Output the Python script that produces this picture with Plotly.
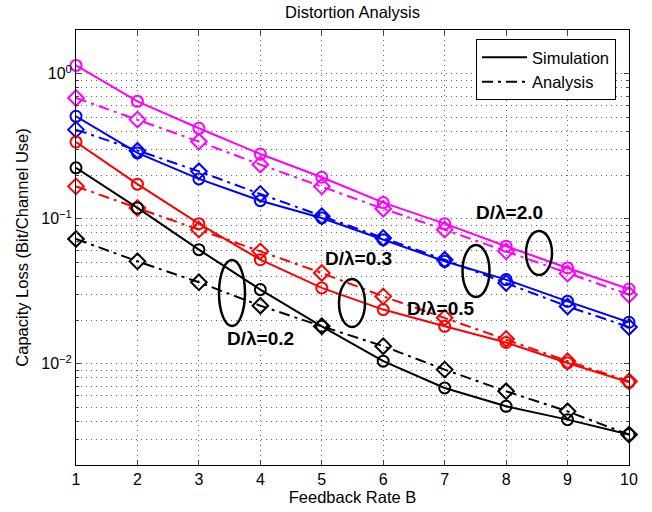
import plotly.graph_objects as go
import numpy as np

B = [1, 2, 3, 4, 5, 6, 7, 8, 9, 10]

sim_20 = [1.14, 0.644, 0.42, 0.279, 0.193, 0.129, 0.0924, 0.0645, 0.0457, 0.0327]
ana_20 = [0.68, 0.482, 0.34, 0.236, 0.167, 0.117, 0.084, 0.0595, 0.0418, 0.0299]
sim_05 = [0.508, 0.284, 0.188, 0.133, 0.101, 0.0716, 0.0508, 0.038, 0.0269, 0.0193]
ana_05 = [0.411, 0.294, 0.212, 0.148, 0.104, 0.0736, 0.0521, 0.036, 0.0248, 0.0179]
sim_03 = [0.338, 0.173, 0.0924, 0.0521, 0.0333, 0.0236, 0.0181, 0.014, 0.0101, 0.00743]
ana_03 = [0.167, 0.1185, 0.084, 0.0595, 0.0422, 0.0291, 0.0207, 0.0148, 0.0104, 0.00755]
sim_02 = [0.224, 0.1185, 0.0611, 0.0324, 0.0181, 0.0104, 0.0068, 0.00508, 0.00411, 0.00324]
ana_02 = [0.0724, 0.0508, 0.0364, 0.0251, 0.0181, 0.0132, 0.0091, 0.00645, 0.00469, 0.00324]

series = [
    (sim_20, ana_20, "#ff00ff"),
    (sim_05, ana_05, "#0000ff"),
    (sim_03, ana_03, "#ff0000"),
    (sim_02, ana_02, "#000000"),
]

y_tick_vals = [0.01, 0.1, 1]
y_tick_text = ["10<sup>−2</sup>", "10<sup>−1</sup>", "10<sup>0</sup>"]
x_tick_vals = B

labels = ["D/λ=2.0", "D/λ=0.5", "D/λ=0.3", "D/λ=0.2"]

DASHDOT = "11px,5px,3px,5px"
FONT = "Liberation Sans, Arial, sans-serif"

fig = go.Figure()
for sim, ana, col in series:
    fig.add_trace(go.Scatter(x=B, y=ana, mode="lines+markers",
                             line=dict(color=col, width=2, dash=DASHDOT),
                             marker=dict(symbol="diamond-open", size=12, color=col,
                                         line=dict(width=2, color=col)),
                             showlegend=False, cliponaxis=False))
    fig.add_trace(go.Scatter(x=B, y=sim, mode="lines+markers",
                             line=dict(color=col, width=2),
                             marker=dict(symbol="circle-open", size=11, color=col,
                                         line=dict(width=2, color=col)),
                             showlegend=False, cliponaxis=False))

# legend proxies
fig.add_trace(go.Scatter(x=[None], y=[None], mode="lines", name="Simulation",
                         line=dict(color="black", width=2)))
fig.add_trace(go.Scatter(x=[None], y=[None], mode="lines", name="Analysis",
                         line=dict(color="black", width=2, dash=DASHDOT)))

# plot area in pixels: x 76..629, y 30..465
L, R, T, Bm = 76, 629, 30, 465
def px(x):
    return (x - L) / (R - L)
def py(y):
    return (Bm - y) / (Bm - T)

ellipses = [(232, 293, 13, 33), (352, 303, 13, 24), (476, 271, 13.5, 26), (539, 253, 13, 22)]
for cx, cy, rx, ry in ellipses:
    fig.add_shape(type="circle", xref="paper", yref="paper",
                  x0=px(cx - rx), x1=px(cx + rx), y0=py(cy + ry), y1=py(cy - ry),
                  line=dict(color="black", width=2.5))

label_pos = [(545, 212), (477, 308), (358, 258), (225, 351)]
for txt, (lx, ly) in zip(labels, label_pos):
    fig.add_annotation(text="<b>" + txt + "</b>", xref="paper", yref="paper",
                       x=px(lx), y=py(ly), showarrow=False,
                       font=dict(size=19, color="black", family=FONT))

minor_vals = []
for d in [0.001, 0.01, 0.1, 1]:
    for k in range(2, 10):
        v = k * d
        if 0.002 <= v <= 2:
            minor_vals.append(v)

grid_col = "rgba(0,0,0,0.6)"
GDASH = "1px,4px"
fig.update_xaxes(range=[1, 10], tickvals=x_tick_vals, ticks="inside", ticklen=5,
                 showline=True, linecolor="black", linewidth=1, mirror="allticks",
                 showgrid=True, gridcolor=grid_col, griddash=GDASH, gridwidth=1,
                 zeroline=False, automargin=False,
                 title=dict(text="Feedback Rate B", font=dict(size=16.5, family=FONT, color="black"),
                            standoff=2),
                 tickfont=dict(size=16, family=FONT, color="black"))
fig.update_yaxes(type="log", range=[np.log10(0.002), np.log10(2)],
                 tickvals=y_tick_vals, ticktext=y_tick_text,
                 ticks="inside", ticklen=5,
                 showline=True, linecolor="black", linewidth=1, mirror="allticks",
                 showgrid=True, gridcolor=grid_col, griddash=GDASH, gridwidth=1,
                 minor=dict(tickvals=minor_vals, ticks="inside", ticklen=3,
                            showgrid=True, gridcolor=grid_col, griddash=GDASH, gridwidth=1),
                 zeroline=False, automargin=False,
                 title=dict(text="Capacity Loss (Bit/Channel Use)",
                            font=dict(size=16.5, family=FONT, color="black"), standoff=8),
                 tickfont=dict(size=16, family=FONT, color="black"))

fig.update_layout(
    width=652, height=512,
    margin=dict(l=L, r=652 - R, t=T, b=512 - Bm, autoexpand=False),
    plot_bgcolor="white", paper_bgcolor="white",
    font=dict(family=FONT, color="black"),
    title=dict(text="Distortion Analysis", x=(L + R) / 2 / 652, xanchor="center",
               y=1 - 12 / 512, yanchor="middle", font=dict(size=16.5, family=FONT, color="black")),
    legend=dict(x=px(616), xanchor="right", y=py(39), yanchor="top",
                bordercolor="black", borderwidth=1, bgcolor="white",
                font=dict(size=16.5, family=FONT, color="black"),
                tracegroupgap=0, itemwidth=45),
)

fig.write_html("out.html", config={"displayModeBar": False},
               post_script="document.body.style.margin='0';document.body.style.overflow='hidden';")
